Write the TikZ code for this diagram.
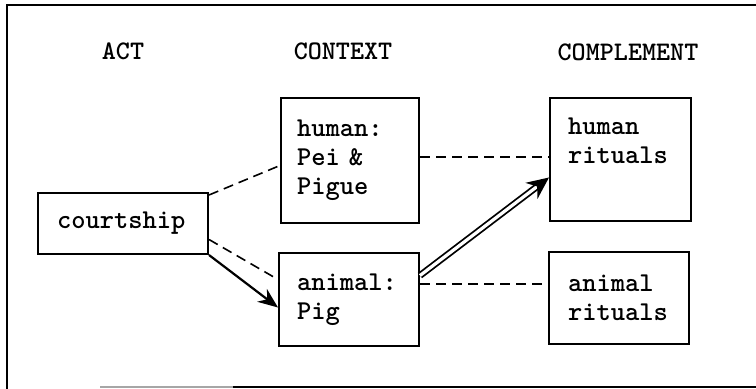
\documentclass[tikz,border=0pt]{standalone}
\usepackage{fontspec}
\usetikzlibrary{arrows.meta}
\tikzset{
  frameline/.style={line width=1pt},
  box/.style={draw, line width=1pt, rectangle, align=left, inner ysep=0pt,
    font=\ttfamily\bfseries\fontsize{13.6pt}{14.5pt}\selectfont},
  header/.style={font=\ttfamily\bfseries\fontsize{13.4pt}{14.5pt}\selectfont},
  link/.style={dashed, dash pattern=on 5pt off 3pt, line width=0.8pt},
  mainarrow/.style={line width=1.1pt, -{Stealth[length=10pt,width=8pt]}},
  derivation/.style={double, double distance=1.6pt, line width=0.9pt,
    -{Stealth[length=11pt,width=10pt]}},
}
\begin{document}
\begin{tikzpicture}[x=0.5pt,y=-0.5pt]
\useasboundingbox (0,0) rectangle (756,389);

% open frame
\draw[frameline] (7,389) -- (7,5) -- (756,5);
\draw[frameline, black!35] (100,387) -- (233,387);
\draw[frameline] (233,387) -- (756,387);

% column headings
\node[header] (hact) at (123,51) {ACT};
\node[header] (hctx) at (343,51) {CONTEXT};
\node[header] (hcmp) at (628,52) {COMPLEMENT};

% boxes
\node[box, minimum height=30.5pt, text width=66pt, inner xsep=9.5pt]
  (act) at (123,223.5) {courtship};
\node[box, minimum height=62.5pt, text width=53pt, inner xsep=8pt]
  (hum) at (350,160.5) {human:\\Pei \&\\Pigue};
\node[box, minimum height=46.5pt, text width=52pt, inner xsep=9pt]
  (ani) at (349,299.5) {animal:\\Pig};
\node[box, minimum height=61.5pt, text width=52.5pt, inner xsep=9pt]
  (humrit) at (620.5,159.5) {human\\rituals\\\strut};
\node[box, minimum height=46pt, text width=51pt, inner xsep=9.5pt]
  (anirit) at (619,298) {animal\\rituals};

% connectors
\draw[link] ([yshift=-1.5pt]act.north east) -- ([yshift=-2.5pt]hum.west);
\draw[link] ([yshift=-8pt]act.east) -- ([yshift=10pt]ani.west);
\draw[mainarrow] (act.south east) -- ([yshift=-4pt]ani.west);
\draw[derivation] ([yshift=12pt]ani.east) -- ([yshift=-9pt]humrit.west);
\draw[link] ([yshift=1.75pt]hum.east) -- ([yshift=1.75pt]hum.east -| humrit.west);
\draw[link] ([yshift=7.75pt]ani.east) -- ([yshift=7.75pt]ani.east -| anirit.west);
\end{tikzpicture}
\end{document}
